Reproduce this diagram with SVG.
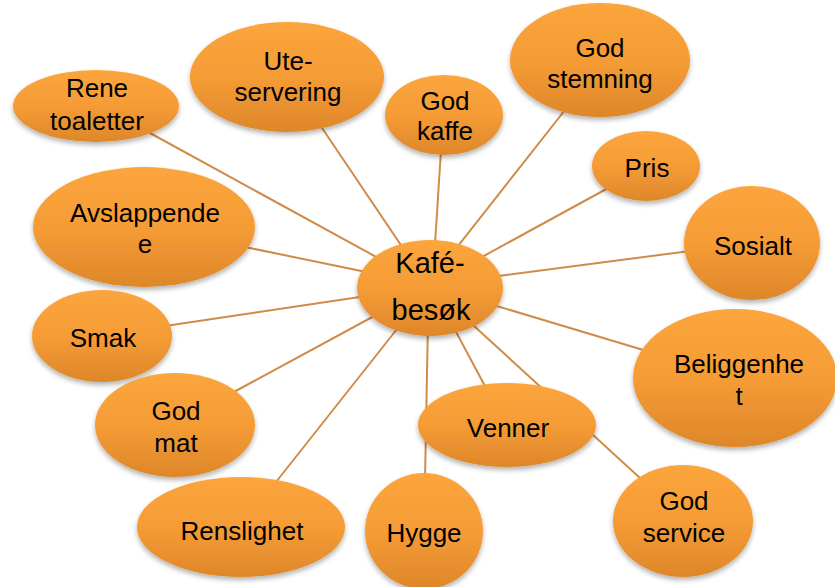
<svg xmlns="http://www.w3.org/2000/svg" width="835" height="587" viewBox="0 0 835 587">
<defs>
<linearGradient id="og" x1="0" y1="0" x2="0" y2="1">
<stop offset="0" stop-color="#FCA53C"/>
<stop offset="0.5" stop-color="#F59C36"/>
<stop offset="1" stop-color="#DE872A"/>
</linearGradient>
<filter id="sh" x="-20%" y="-20%" width="140%" height="150%">
<feDropShadow dx="0" dy="3" stdDeviation="2.5" flood-color="#000" flood-opacity="0.3"/>
</filter>
</defs>
<style>
.n{fill:url(#og);filter:url(#sh)}
.t{font-family:"Liberation Sans",Arial,sans-serif;font-size:26px;fill:#000;text-anchor:middle}
.c{font-size:29px}
.e line{stroke:#D08B4A;stroke-width:2;fill:none}
</style>
<rect width="835" height="587" fill="#fff"/>
<g id="connectors" class="e">
<line x1="150" y1="133" x2="400" y2="270"/>
<line x1="320" y1="125" x2="411" y2="260"/>
<line x1="441" y1="150" x2="434" y2="260"/>
<line x1="565" y1="110" x2="447" y2="260"/>
<line x1="610" y1="187" x2="460" y2="269"/>
<line x1="690" y1="251" x2="460" y2="281"/>
<line x1="650" y1="352" x2="470" y2="298"/>
<line x1="245" y1="247" x2="400" y2="279"/>
<line x1="165" y1="326" x2="400" y2="291"/>
<line x1="232" y1="393" x2="400" y2="302"/>
<line x1="276" y1="482" x2="420" y2="300"/>
<line x1="428" y1="320" x2="425" y2="480"/>
<line x1="439" y1="300" x2="486" y2="388"/>
<line x1="450" y1="304" x2="640" y2="478"/>
</g>
<g id="rene"><ellipse class="n" cx="96" cy="106" rx="83" ry="36"/><text class="t" x="97" y="97">Rene</text><text class="t" x="97" y="130">toaletter</text></g>
<g id="ute"><ellipse class="n" cx="287" cy="77" rx="97" ry="55"/><text class="t" x="288" y="70">Ute-</text><text class="t" x="288" y="101">servering</text></g>
<g id="kaffe"><ellipse class="n" cx="444" cy="115" rx="59" ry="40"/><text class="t" x="445" y="110">God</text><text class="t" x="445" y="140">kaffe</text></g>
<g id="stemning"><ellipse class="n" cx="600" cy="60" rx="90" ry="57"/><text class="t" x="600" y="57">God</text><text class="t" x="600" y="88">stemning</text></g>
<g id="pris"><ellipse class="n" cx="646" cy="166" rx="54" ry="35"/><text class="t" x="647" y="177">Pris</text></g>
<g id="sosialt"><ellipse class="n" cx="752" cy="243" rx="68" ry="57"/><text class="t" x="753" y="255">Sosialt</text></g>
<g id="beliggenhet"><ellipse class="n" cx="735" cy="378" rx="102" ry="69"/><text class="t" x="739" y="373">Beliggenhe</text><text class="t" x="739" y="405">t</text></g>
<g id="avslappende"><ellipse class="n" cx="144" cy="227" rx="111" ry="60"/><text class="t" x="145" y="222">Avslappende</text><text class="t" x="145" y="253">e</text></g>
<g id="smak"><ellipse class="n" cx="102" cy="336" rx="70" ry="46"/><text class="t" x="103" y="347">Smak</text></g>
<g id="godmat"><ellipse class="n" cx="175" cy="425" rx="80" ry="52"/><text class="t" x="176" y="420">God</text><text class="t" x="176" y="452">mat</text></g>
<g id="renslighet"><ellipse class="n" cx="241" cy="527" rx="104" ry="50"/><text class="t" x="242" y="540">Renslighet</text></g>
<g id="hygge"><ellipse class="n" cx="424" cy="531" rx="59" ry="58"/><text class="t" x="424" y="542">Hygge</text></g>
<g id="venner"><ellipse class="n" cx="507" cy="425" rx="89" ry="42"/><text class="t" x="508" y="437">Venner</text></g>
<g id="service"><ellipse class="n" cx="683" cy="521" rx="70" ry="56"/><text class="t" x="684" y="510">God</text><text class="t" x="684" y="542">service</text></g>
<g id="kafe"><ellipse class="n" cx="430" cy="288" rx="73" ry="48"/><text class="t c" x="430" y="273">Kafé-</text><text class="t c" x="431" y="320">besøk</text></g>
</svg>
